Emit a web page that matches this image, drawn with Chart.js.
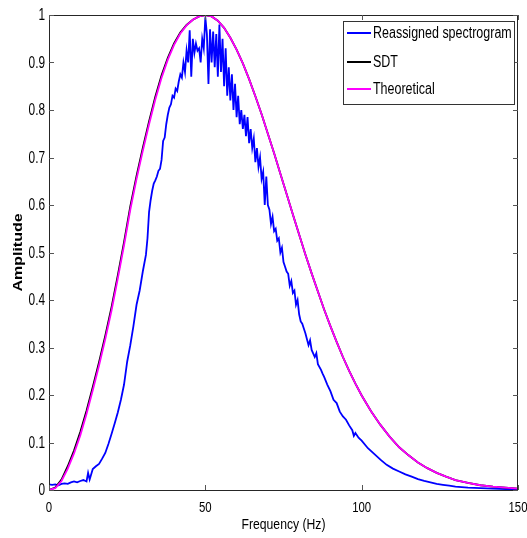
<!DOCTYPE html>
<html>
<head>
<meta charset="utf-8">
<script src="https://cdn.jsdelivr.net/npm/chart.js@4.4.1/dist/chart.umd.min.js"></script>
<style>
  html, body { margin: 0; padding: 0; background: #fff; }
  #c { display: block; }
</style>
</head>
<body>
<canvas id="c" width="527" height="538"></canvas>
<script>
// tick labels
const xTicks = [0, 50, 100, 150];
const yTicks = [0, 0.1, 0.2, 0.3, 0.4, 0.5, 0.6, 0.7, 0.8, 0.9, 1];

// Reassigned spectrogram (blue)
const freqBlue = [0, 1, 2, 3, 4, 5, 6, 7, 8, 9, 10, 11, 12, 12.5, 13, 14, 15, 16, 17, 18, 19, 20,
  21, 22, 23, 24, 25, 26, 27, 28, 29, 30, 31, 31.5, 32, 32.5, 33, 33.5, 34, 34.5, 35, 35.5,
  36, 36.5, 37, 37.5, 38, 38.5, 39, 39.5, 40, 40.5, 41, 41.5, 42, 42.5, 43, 43.5, 44, 44.5,
  45, 45.5, 46, 46.5, 47, 47.5, 48, 48.5, 49, 49.5, 50, 50.5, 51, 51.5, 52, 52.5, 53, 53.5,
  54, 54.5, 55, 55.5, 56, 56.5, 57, 57.5, 58, 58.5, 59, 59.5, 60, 60.5, 61, 61.5, 62, 62.5,
  63, 63.5, 64, 64.5, 65, 65.5, 66, 66.5, 67, 67.5, 68, 68.5, 69, 69.5, 70, 70.5, 71, 71.5,
  72, 72.5, 73, 73.5, 74, 74.5, 75, 75.5, 76, 76.5, 77, 77.5, 78, 78.5, 79, 79.5, 80, 80.5,
  81, 81.5, 82, 83, 83.5, 84, 85, 85.5, 86, 87, 87.5, 88, 89, 90, 91, 92, 93, 94, 95, 96, 97,
  97.5, 98, 99, 100, 102, 104, 106, 108, 110, 112, 114, 116, 118, 120, 122, 124, 126, 128,
  130, 134, 138, 142, 146, 150];
const ampBlue = [0.012, 0.011, 0.012, 0.010, 0.013, 0.014, 0.013, 0.016, 0.018, 0.016, 0.019, 0.021, 0.018, 0.036, 0.022, 0.044, 0.05, 0.055, 0.066, 0.078, 0.097, 0.118,
  0.14, 0.163, 0.19, 0.222, 0.27, 0.305, 0.345, 0.39, 0.42, 0.46, 0.495, 0.53, 0.585, 0.61, 0.63, 0.645, 0.652, 0.66, 0.672, 0.676,
  0.695, 0.735, 0.742, 0.77, 0.79, 0.805, 0.812, 0.83, 0.826, 0.845, 0.84, 0.86, 0.875, 0.868, 0.9, 0.88, 0.925, 0.9,
  0.968, 0.87, 0.95, 0.92, 0.94, 0.925, 0.93, 0.9, 0.95, 0.93, 0.995, 0.96, 0.855, 0.97, 0.9, 0.965, 0.89, 0.96,
  0.87, 0.98, 0.88, 0.95, 0.85, 0.93, 0.83, 0.89, 0.82, 0.875, 0.8, 0.855, 0.785, 0.83, 0.77, 0.8, 0.76, 0.79,
  0.745, 0.785, 0.73, 0.76, 0.72, 0.74, 0.69, 0.72, 0.68, 0.7, 0.655, 0.67, 0.6, 0.66, 0.6, 0.59, 0.56, 0.575,
  0.545, 0.55, 0.525, 0.53, 0.5, 0.51, 0.48, 0.47, 0.46, 0.455, 0.43, 0.44, 0.415, 0.42, 0.39, 0.4, 0.37, 0.355,
  0.35, 0.34, 0.33, 0.305, 0.315, 0.295, 0.28, 0.288, 0.265, 0.253, 0.245, 0.238, 0.222, 0.208, 0.19, 0.183, 0.165, 0.155, 0.148, 0.136, 0.126,
  0.114, 0.12, 0.11, 0.104, 0.088, 0.076, 0.064, 0.053, 0.045, 0.039, 0.033, 0.028, 0.023, 0.019, 0.016, 0.013, 0.011, 0.009,
  0.007, 0.005, 0.004, 0.003, 0.002, 0.002];

// SDT (black) and Theoretical (magenta)
const freqModel = [0, 2, 4, 6, 8, 10, 12, 14, 16, 18, 20, 22, 24, 26, 28, 30, 32, 34, 36, 38, 40, 42, 44, 46, 48, 50,
  52, 54, 56, 58, 60, 62, 64, 66, 68, 70, 72, 74, 76, 78, 80, 82, 84, 86, 88, 90, 92, 94, 96, 98, 100,
  103, 106, 109, 112, 115, 118, 121, 124, 127, 130, 134, 138, 142, 146, 150];
const ampSDT = [0, 0.005, 0.022, 0.05, 0.083, 0.122, 0.167, 0.217, 0.269, 0.325, 0.385, 0.452, 0.522, 0.597, 0.661, 0.72, 0.776, 0.828, 0.873, 0.91, 0.94, 0.963, 0.979, 0.99, 0.997, 1,
  0.997, 0.988, 0.973, 0.952, 0.927, 0.898, 0.865, 0.829, 0.791, 0.75, 0.709, 0.666, 0.623, 0.58, 0.538, 0.496, 0.456, 0.418, 0.38, 0.345, 0.312, 0.28, 0.251, 0.224, 0.199,
  0.166, 0.137, 0.112, 0.09, 0.073, 0.058, 0.046, 0.036, 0.028, 0.021, 0.015, 0.01, 0.007, 0.005, 0.003];
const ampTheory = [0, 0.004, 0.019, 0.045, 0.077, 0.115, 0.16, 0.21, 0.262, 0.318, 0.378, 0.445, 0.515, 0.59, 0.655, 0.714, 0.77, 0.822, 0.868, 0.906, 0.937, 0.961, 0.978, 0.99, 0.997, 1,
  0.997, 0.988, 0.973, 0.952, 0.927, 0.898, 0.865, 0.829, 0.791, 0.75, 0.709, 0.666, 0.623, 0.58, 0.538, 0.496, 0.456, 0.418, 0.38, 0.345, 0.312, 0.28, 0.251, 0.224, 0.199,
  0.166, 0.137, 0.112, 0.09, 0.073, 0.058, 0.046, 0.036, 0.028, 0.021, 0.015, 0.01, 0.007, 0.005, 0.003];

const FONT = '"Liberation Sans", Arial, sans-serif';

function toPoints(xs, ys) {
  return xs.map((x, i) => ({ x: x, y: ys[i] }));
}

// text squeezed horizontally like the source figure
function squeezeText(ctx, text, x, y, factor) {
  const w = ctx.measureText(text).width;
  ctx.fillText(text, x, y, w * factor);
}

const matlabAxes = {
  id: 'matlabAxes',
  afterDatasetsDraw(chart) {
    const ctx = chart.ctx;
    const a = chart.chartArea;
    const xs = chart.scales.x, ys = chart.scales.y;
    ctx.save();

    // box
    ctx.strokeStyle = '#262626';
    ctx.lineWidth = 1;
    ctx.strokeRect(a.left + 0.5, a.top + 0.5, a.right - a.left - 1, a.bottom - a.top);

    // inward ticks on all four sides
    ctx.strokeStyle = '#555';
    ctx.beginPath();
    xTicks.forEach(v => {
      const px = Math.round(xs.getPixelForValue(v)) + 0.5;
      ctx.moveTo(px, a.bottom); ctx.lineTo(px, a.bottom - 5);
      ctx.moveTo(px, a.top); ctx.lineTo(px, a.top + 5);
    });
    yTicks.forEach(v => {
      const py = Math.round(ys.getPixelForValue(v)) + 0.5;
      ctx.moveTo(a.left, py); ctx.lineTo(a.left + 5, py);
      ctx.moveTo(a.right, py); ctx.lineTo(a.right - 5, py);
    });
    ctx.stroke();

    // tick labels
    ctx.fillStyle = '#000';
    ctx.font = '16px ' + FONT;
    ctx.textAlign = 'right';
    ctx.textBaseline = 'middle';
    yTicks.forEach(v => {
      squeezeText(ctx, String(v), a.left - 4, ys.getPixelForValue(v) + 1, 0.74);
    });
    ctx.font = '15px ' + FONT;
    ctx.textAlign = 'center';
    xTicks.forEach(v => {
      squeezeText(ctx, String(v), xs.getPixelForValue(v), a.bottom + 18, 0.76);
    });

    // axis titles
    ctx.font = '15px ' + FONT;
    ctx.fillText('Frequency (Hz)', (a.left + a.right) / 2, a.bottom + 35, 84);
    ctx.save();
    ctx.translate(18, (a.top + a.bottom) / 2);
    ctx.rotate(-Math.PI / 2);
    ctx.scale(1, 0.8);
    ctx.font = 'bold 16px ' + FONT;
    ctx.fillText('Amplitude', 0, 0);
    ctx.restore();

    // legend
    const lx = 343.5, ly = 21.5, lw = 171, lh = 83;
    ctx.fillStyle = '#fff';
    ctx.fillRect(lx, ly, lw, lh);
    ctx.strokeStyle = '#333';
    ctx.strokeRect(lx, ly, lw, lh);
    ctx.font = '16px ' + FONT;
    ctx.textAlign = 'left';
    const rows = [33, 62, 89];
    chart.data.datasets.forEach((ds, i) => {
      ctx.strokeStyle = ds.borderColor;
      ctx.lineWidth = 2;
      ctx.beginPath();
      ctx.moveTo(347, rows[i]); ctx.lineTo(371, rows[i]);
      ctx.stroke();
      ctx.fillStyle = '#000';
      squeezeText(ctx, ds.label, 373, rows[i] + 1, 0.78);
    });
    ctx.restore();
  }
};

new Chart(document.getElementById('c'), {
  type: 'line',
  data: {
    datasets: [
      { label: 'Reassigned spectrogram', data: toPoints(freqBlue, ampBlue), borderColor: '#0000ff', borderWidth: 1.8, order: 3 },
      { label: 'SDT', data: toPoints(freqModel, ampSDT), borderColor: '#000000', borderWidth: 1.8, order: 2 },
      { label: 'Theoretical', data: toPoints(freqModel, ampTheory), borderColor: '#ff00ff', borderWidth: 1.8, order: 1 }
    ]
  },
  options: {
    responsive: false,
    animation: false,
    layout: { padding: { left: 49, right: 9, top: 15, bottom: 48 } },
    elements: { point: { radius: 0 }, line: { tension: 0, fill: false } },
    plugins: { legend: { display: false }, tooltip: { enabled: false } },
    scales: {
      x: { type: 'linear', min: 0, max: 150, display: false, ticks: { stepSize: 50 } },
      y: { type: 'linear', min: 0, max: 1, display: false, ticks: { stepSize: 0.1 } }
    }
  },
  plugins: [matlabAxes]
});
</script>
</body>
</html>
